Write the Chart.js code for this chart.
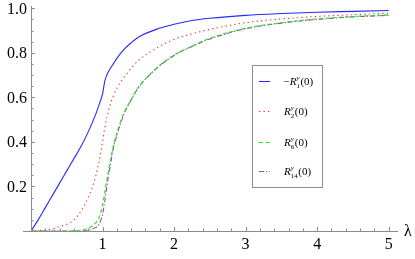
<!DOCTYPE html>
<html>
<head>
<meta charset="utf-8">
<script src="https://cdn.jsdelivr.net/npm/chart.js@4/dist/chart.umd.min.js"></script>
<style>
  html, body { margin: 0; padding: 0; background: #fff; }
  #wrap { width: 415px; height: 259px; }
</style>
</head>
<body>
<div id="wrap"><canvas id="chart"></canvas></div>
<script>
"use strict";

// lambda grid shared by all curves
const lambdas = [0, 0.1, 0.2, 0.3, 0.4, 0.5, 0.6, 0.7, 0.8, 0.9, 0.95, 1.0, 1.03, 1.06, 1.1, 1.15, 1.2, 1.3, 1.4, 1.5, 1.75, 2, 2.25, 2.5, 3, 3.5, 4, 4.5, 5];

const minusR1 = [0, 0.05, 0.105, 0.16, 0.215, 0.27, 0.325, 0.38, 0.445, 0.52, 0.565, 0.615, 0.67, 0.70, 0.725, 0.75, 0.775, 0.815, 0.845, 0.87, 0.905, 0.928, 0.945, 0.955, 0.968, 0.976, 0.982, 0.986, 0.99];
const r2 = [0, 0.001, 0.004, 0.01, 0.02, 0.03, 0.05, 0.09, 0.15, 0.24, 0.31, 0.40, 0.46, 0.51, 0.56, 0.605, 0.64, 0.69, 0.73, 0.765, 0.82, 0.86, 0.885, 0.905, 0.935, 0.952, 0.963, 0.971, 0.978];
const r6 = [0, 0, 0, 0, 0, 0, 0.001, 0.004, 0.013, 0.035, 0.06, 0.115, 0.17, 0.23, 0.30, 0.38, 0.44, 0.53, 0.59, 0.645, 0.73, 0.79, 0.83, 0.865, 0.91, 0.935, 0.952, 0.963, 0.97];
const r14 = [0, 0, 0, 0, 0, 0, 0, 0, 0.003, 0.015, 0.03, 0.075, 0.13, 0.20, 0.28, 0.37, 0.43, 0.525, 0.588, 0.643, 0.728, 0.788, 0.828, 0.862, 0.908, 0.933, 0.95, 0.961, 0.968];

const xTicks = [1, 2, 3, 4, 5];
const yTicks = [0.2, 0.4, 0.6, 0.8, 1.0];
const yTickLabels = ['0.2', '0.4', '0.6', '0.8', '1.0'];

// legend entries: prefix, subscript
const legendItems = [
  { pre: '\u2212', sub: '1' },
  { pre: '', sub: '2' },
  { pre: '', sub: '6' },
  { pre: '', sub: '14' }
];

const SERIF = '"Liberation Serif", "DejaVu Serif", serif';

function series(ys) {
  return lambdas.map(function(x, i) { return { x: x, y: ys[i] }; });
}

function line(label, ys, color, dash) {
  return {
    label: label,
    data: series(ys),
    borderColor: color,
    borderWidth: 1.1,
    borderDash: dash,
    pointRadius: 0,
    fill: false,
    cubicInterpolationMode: 'monotone'
  };
}

// mathematica-like axes through the origin, ticks pointing inward
const axesPlugin = {
  id: 'axes',
  afterDraw(chart) {
    const ctx = chart.ctx;
    const xs = chart.scales.x, ys = chart.scales.y;
    const x0 = xs.getPixelForValue(0), y0 = ys.getPixelForValue(0);
    ctx.save();
    ctx.strokeStyle = '#8c8c8c';
    ctx.lineWidth = 1;
    ctx.beginPath();
    ctx.moveTo(x0 - 8, y0 + 0.5); ctx.lineTo(xs.right, y0 + 0.5);
    ctx.moveTo(x0 + 0.5, y0); ctx.lineTo(x0 + 0.5, ys.top);
    for (let v = 0.2; v < 5.1; v += 0.2) {
      const px = Math.round(xs.getPixelForValue(v)) + 0.5;
      const major = Math.abs(v - Math.round(v)) < 1e-6;
      ctx.moveTo(px, y0); ctx.lineTo(px, y0 - (major ? 4 : 2.5));
    }
    for (let v = 0.05; v < 1.001; v += 0.05) {
      const py = Math.round(ys.getPixelForValue(v)) + 0.5;
      const major = Math.abs(v * 5 - Math.round(v * 5)) < 1e-6;
      ctx.moveTo(x0, py); ctx.lineTo(x0 + (major ? 4 : 2.5), py);
    }
    ctx.stroke();

    ctx.fillStyle = '#000';
    ctx.font = '16px ' + SERIF;
    ctx.textAlign = 'center';
    ctx.textBaseline = 'alphabetic';
    xTicks.forEach(function(v) {
      ctx.fillText(String(v), xs.getPixelForValue(v), y0 + 18);
    });
    ctx.textAlign = 'right';
    yTicks.forEach(function(v, i) {
      ctx.fillText(yTickLabels[i], x0 - 4, ys.getPixelForValue(v) + 5.5);
    });
    ctx.textAlign = 'left';
    ctx.fillText('\u03bb', 404, y0 + 5);
    ctx.restore();
  }
};

// boxed legend inside the plot
const legendPlugin = {
  id: 'boxLegend',
  afterDraw(chart) {
    const ctx = chart.ctx;
    const box = { x: 252.5, y: 65.5, w: 70, h: 122 };
    ctx.save();
    ctx.fillStyle = '#fff';
    ctx.fillRect(box.x, box.y, box.w, box.h);
    ctx.strokeStyle = '#8c8c8c';
    ctx.lineWidth = 1;
    ctx.strokeRect(box.x, box.y, box.w, box.h);

    const rows = [81, 111, 142, 171];
    chart.data.datasets.forEach(function(ds, i) {
      const cy = rows[i] + 0.5;
      ctx.strokeStyle = ds.borderColor;
      ctx.lineWidth = 1.1;
      ctx.setLineDash(ds.borderDash || []);
      ctx.beginPath();
      ctx.moveTo(259, cy); ctx.lineTo(270, cy);
      ctx.stroke();
      ctx.setLineDash([]);

      const item = legendItems[i];
      const base = rows[i] + 4;
      let tx = item.pre ? 283 : 284;
      ctx.fillStyle = '#000';
      ctx.textAlign = 'left';
      if (item.pre) {
        ctx.font = '11px ' + SERIF;
        ctx.fillText(item.pre, tx, base);
        tx += ctx.measureText(item.pre).width + 0.5;
      }
      ctx.font = 'italic 11px ' + SERIF;
      ctx.fillText('R', tx, base);
      tx += ctx.measureText('R').width;
      ctx.font = 'italic 7px ' + SERIF;
      ctx.fillText('y', tx, base - 5);
      const wSup = ctx.measureText('y').width;
      ctx.font = '7px ' + SERIF;
      ctx.fillText(item.sub, tx, base + 2.5);
      tx += Math.max(wSup, ctx.measureText(item.sub).width) + 0.5;
      ctx.font = '11px ' + SERIF;
      ctx.fillText('(0)', tx, base);
    });
    ctx.restore();
  }
};

new Chart(document.getElementById('chart'), {
  type: 'line',
  data: {
    datasets: [
      line('-R1', minusR1, 'rgb(40,40,255)', []),
      line('R2', r2, 'rgb(255,40,40)', [1.3, 3.2]),
      line('R6', r6, 'rgb(30,230,30)', [4, 2.5]),
      line('R14', r14, 'rgb(160,70,170)', [5, 2, 1.3, 2])
    ]
  },
  options: {
    responsive: true,
    maintainAspectRatio: false,
    animation: false,
    layout: { padding: { left: 31, right: 17, top: 6, bottom: 28 } },
    plugins: { legend: { display: false }, tooltip: { enabled: false } },
    scales: {
      x: { type: 'linear', min: 0, max: 5.13, display: false },
      y: { type: 'linear', min: 0, max: 1.01, display: false }
    }
  },
  plugins: [axesPlugin, legendPlugin]
});
</script>
</body>
</html>
